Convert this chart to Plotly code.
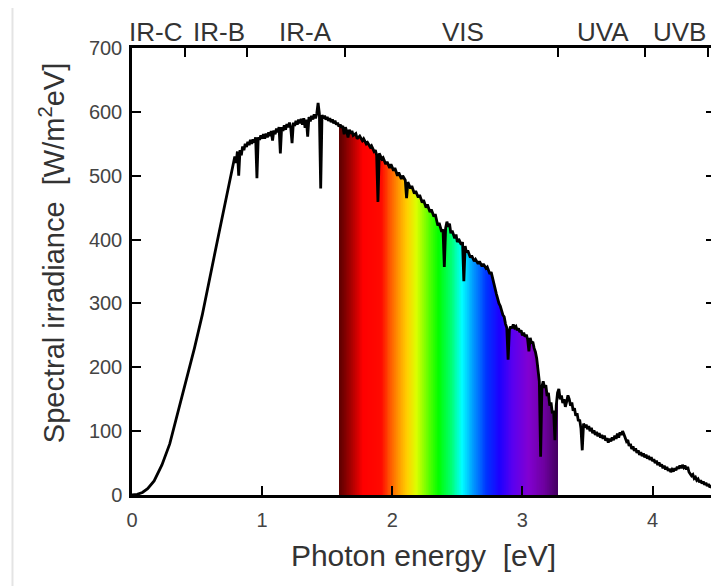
import numpy as np
import plotly.graph_objects as go

# ---- data ----
energy_ev = [
    0.00, 0.04, 0.08, 0.12, 0.17, 0.23, 0.29, 0.35, 0.41, 0.48, 0.54, 0.59, 0.63, 0.67, 0.71, 0.74,
    0.77, 0.78, 0.79, 0.80, 0.81, 0.82, 0.83, 0.84, 0.85, 0.86, 0.87, 0.88, 0.89, 0.90, 0.91, 0.92,
    0.93, 0.94, 0.95, 0.96, 0.97, 0.98, 0.99, 1.00, 1.01, 1.02, 1.03, 1.04, 1.05, 1.06, 1.07, 1.08,
    1.09, 1.10, 1.11, 1.12, 1.13, 1.14, 1.15, 1.16, 1.17, 1.18, 1.19, 1.20, 1.21, 1.22, 1.23, 1.24,
    1.25, 1.26, 1.27, 1.28, 1.29, 1.30, 1.31, 1.32, 1.33, 1.34, 1.35, 1.36, 1.37, 1.38, 1.39, 1.40,
    1.41, 1.42, 1.43, 1.44, 1.45, 1.46, 1.47, 1.48, 1.49, 1.50, 1.51, 1.52, 1.53, 1.54, 1.55, 1.56,
    1.57, 1.58, 1.59, 1.60, 1.61, 1.62, 1.63, 1.64, 1.65, 1.66, 1.67, 1.68, 1.69, 1.70, 1.72, 1.73,
    1.75, 1.77, 1.78, 1.80, 1.81, 1.83, 1.84, 1.86, 1.87, 1.88, 1.89, 1.90, 1.92, 1.93, 1.95, 1.96,
    1.98, 1.99, 2.01, 2.02, 2.04, 2.05, 2.07, 2.08, 2.10, 2.11, 2.12, 2.14, 2.15, 2.17, 2.18, 2.20,
    2.21, 2.23, 2.24, 2.26, 2.27, 2.29, 2.30, 2.32, 2.33, 2.35, 2.36, 2.38, 2.39, 2.40, 2.41, 2.42,
    2.43, 2.44, 2.45, 2.46, 2.48, 2.49, 2.50, 2.51, 2.53, 2.54, 2.55, 2.56, 2.57, 2.58, 2.60, 2.61,
    2.63, 2.64, 2.66, 2.67, 2.69, 2.70, 2.72, 2.73, 2.75, 2.76, 2.78, 2.79, 2.80, 2.82, 2.83, 2.85,
    2.86, 2.87, 2.88, 2.89, 2.90, 2.91, 2.92, 2.93, 2.94, 2.95, 2.96, 2.97, 2.98, 2.99, 3.00, 3.01,
    3.02, 3.03, 3.04, 3.05, 3.06, 3.07, 3.08, 3.09, 3.10, 3.11, 3.12, 3.13, 3.14, 3.15, 3.16, 3.17,
    3.18, 3.19, 3.20, 3.21, 3.22, 3.23, 3.24, 3.25, 3.26, 3.27, 3.28, 3.29, 3.30, 3.31, 3.32, 3.33,
    3.34, 3.35, 3.36, 3.37, 3.38, 3.39, 3.40, 3.41, 3.42, 3.43, 3.44, 3.45, 3.46, 3.47, 3.48, 3.49,
    3.50, 3.51, 3.52, 3.53, 3.54, 3.55, 3.56, 3.57, 3.58, 3.59, 3.60, 3.61, 3.62, 3.63, 3.64, 3.65,
    3.66, 3.67, 3.68, 3.69, 3.70, 3.71, 3.72, 3.73, 3.74, 3.75, 3.76, 3.77, 3.78, 3.79, 3.80, 3.81,
    3.82, 3.83, 3.84, 3.85, 3.86, 3.87, 3.88, 3.89, 3.90, 3.91, 3.92, 3.93, 3.94, 3.95, 3.96, 3.97,
    3.98, 3.99, 4.00, 4.01, 4.02, 4.03, 4.04, 4.05, 4.06, 4.07, 4.08, 4.09, 4.10, 4.11, 4.12, 4.13,
    4.14, 4.15, 4.16, 4.17, 4.18, 4.19, 4.20, 4.21, 4.22, 4.23, 4.24, 4.25, 4.26, 4.27, 4.28, 4.29,
    4.30, 4.31, 4.32, 4.33, 4.34, 4.35, 4.36, 4.37, 4.38, 4.39, 4.40, 4.41, 4.42, 4.43, 4.44, 4.45,
    4.46, 4.47]
irradiance = [
    0, 1, 4, 10, 22, 47, 80, 127, 178, 230, 282, 335, 372, 412, 452, 482,
    512, 522, 530, 520, 538, 500, 540, 532, 546, 540, 550, 545, 553, 548, 556, 550,
    557, 552, 560, 496, 560, 556, 563, 558, 565, 558, 566, 560, 568, 562, 570, 555,
    571, 565, 574, 568, 576, 535, 576, 570, 579, 572, 581, 576, 583, 575, 551, 583,
    578, 586, 580, 588, 582, 589, 580, 590, 575, 588, 561, 592, 585, 594, 588, 596,
    590, 597, 614, 597, 480, 595, 590, 594, 588, 592, 586, 590, 584, 588, 582, 586,
    580, 583, 577, 580, 575, 578, 565, 576, 570, 560, 572, 566, 570, 563, 566, 558,
    562, 555, 558, 550, 552, 545, 547, 538, 540, 532, 459, 535, 526, 528, 518, 522,
    512, 518, 508, 512, 500, 505, 495, 500, 493, 465, 490, 480, 484, 472, 476, 466,
    470, 458, 462, 450, 455, 443, 447, 436, 440, 422, 426, 412, 416, 357, 418, 428,
    420, 425, 410, 414, 402, 408, 396, 401, 392, 396, 335, 390, 380, 383, 372, 375,
    366, 369, 362, 366, 358, 362, 355, 357, 346, 349, 330, 325, 315, 300, 296, 282,
    279, 268, 262, 212, 258, 264, 261, 267, 262, 264, 258, 261, 255, 258, 250, 254,
    248, 251, 244, 225, 246, 238, 240, 230, 224, 214, 200, 178, 60, 170, 178, 168,
    172, 155, 160, 140, 145, 128, 132, 86, 140, 160, 166, 150, 156, 144, 150, 138,
    146, 156, 150, 140, 145, 132, 136, 124, 128, 116, 118, 104, 70, 112, 106, 110,
    103, 108, 100, 105, 97, 101, 94, 99, 92, 97, 90, 94, 88, 93, 85, 89,
    82, 88, 84, 90, 86, 93, 88, 96, 90, 98, 94, 100, 95, 90, 84, 86,
    77, 80, 72, 76, 69, 73, 66, 70, 63, 67, 61, 65, 59, 63, 57, 61,
    55, 59, 53, 56, 50, 54, 47, 51, 45, 48, 42, 46, 40, 44, 38, 41,
    36, 40, 37, 42, 39, 44, 41, 46, 42, 47, 43, 46, 40, 44, 36, 33,
    30, 32, 26, 28, 23, 25, 20, 23, 18, 21, 16, 19, 14, 17, 12, 15,
    10, 13]

x_ticks = [0, 1, 2, 3, 4]
y_ticks = [0, 100, 200, 300, 400, 500, 600, 700]
band_edges_ev = [0.41, 0.886, 1.64, 3.27, 3.94, 4.43]
band_names = ["IR-C", "IR-B", "IR-A", "VIS", "UVA", "UVB"]
band_label_ev = [0.18, 0.67, 1.33, 2.54, 3.62, 4.21]
visible_range_ev = [1.595, 3.27]
x_title = "Photon energy  [eV]"
y_title = "Spectral irradiance  [W/m<sup>2</sup>eV]"

# ---- colour stops for the rainbow fill (style) ----
stops_e = [1.595, 1.68, 1.78, 1.92, 1.98, 2.05, 2.12, 2.19, 2.27, 2.36, 2.46, 2.54, 2.63, 2.73,
           2.83, 2.93, 3.05, 3.17, 3.27]
stops_rgb = [(90, 0, 0), (160, 0, 0), (255, 0, 0), (255, 10, 0), (255, 80, 0), (255, 150, 0),
             (255, 210, 0), (220, 255, 0), (110, 255, 0), (0, 255, 0), (0, 255, 120),
             (0, 255, 255), (0, 150, 255), (0, 50, 255), (30, 0, 255), (90, 0, 240),
             (130, 0, 210), (110, 0, 160), (70, 0, 100)]

step = 0.005
vis_e = np.arange(visible_range_ev[0] + step / 2, visible_range_ev[1], step)
vis_y = np.interp(vis_e, energy_ev, irradiance)
rgb = np.array(stops_rgb, dtype=float)
cols = [f"rgb({int(np.interp(e, stops_e, rgb[:, 0]))},{int(np.interp(e, stops_e, rgb[:, 1]))},"
        f"{int(np.interp(e, stops_e, rgb[:, 2]))})" for e in vis_e]

fig = go.Figure()
fig.add_trace(go.Bar(x=vis_e, y=vis_y, width=step * 1.15, marker=dict(color=cols, line=dict(width=0)),
                     hoverinfo="skip", showlegend=False))
fig.add_trace(go.Scatter(x=energy_ev, y=irradiance, mode="lines",
                         line=dict(color="black", width=2.8), showlegend=False))
# invisible trace to activate top axis
fig.add_trace(go.Scatter(x=[0], y=[0], xaxis="x2", mode="markers", marker=dict(opacity=0),
                         showlegend=False, hoverinfo="skip"))

font_family = "Liberation Sans, Arial, sans-serif"
tick_color = "#444"

for name, e in zip(band_names, band_label_ev):
    fig.add_annotation(x=e, y=1.0, xref="x", yref="paper", yanchor="bottom", yshift=-1,
                       text=name, showarrow=False,
                       font=dict(family=font_family, size=26, color="#333"))

# y-axis title as annotation (positioned like the reference)
fig.add_annotation(x=-0.138, y=0.54, xref="paper", yref="paper", xanchor="center", yanchor="middle",
                   text=y_title, textangle=-90, showarrow=False,
                   font=dict(family=font_family, size=29, color="#333"))

fig.add_shape(type="line", xref="paper", yref="paper", x0=-0.205, x1=-0.205, y0=-0.3, y1=1.092,
              line=dict(color="#e4e4e4", width=2))

# page body has an 8px margin, so the figure is shifted by 8px; compensate here
fig.update_layout(
    width=711, height=578,
    margin=dict(l=124, r=1, t=40, b=91),
    paper_bgcolor="white", plot_bgcolor="white",
    bargap=0, barmode="overlay",
    font=dict(family=font_family, color=tick_color),
    xaxis=dict(range=[0, 4.48], tickvals=x_ticks, ticks="inside", ticklen=9, tickwidth=2,
               tickcolor="black", showline=True, linewidth=2.5, linecolor="black", mirror=True,
               showgrid=False, zeroline=False, tickfont=dict(size=20, color=tick_color),
               ticklabelstandoff=5,
               title=dict(text=x_title, font=dict(size=30, color="#333"), standoff=16)),
    xaxis2=dict(range=[0, 4.48], overlaying="x", side="top", tickvals=band_edges_ev,
                ticks="inside", ticklen=9, tickwidth=2, tickcolor="black",
                showticklabels=False, showline=False, showgrid=False, zeroline=False),
    yaxis=dict(range=[0, 700], tickvals=y_ticks, ticks="inside", ticklen=9, tickwidth=2,
               tickcolor="black", showline=True, linewidth=2.5, linecolor="black", mirror="ticks",
               showgrid=False, zeroline=False, tickfont=dict(size=20, color=tick_color),
               ticklabelstandoff=3),
)

fig.write_html("out.html")
